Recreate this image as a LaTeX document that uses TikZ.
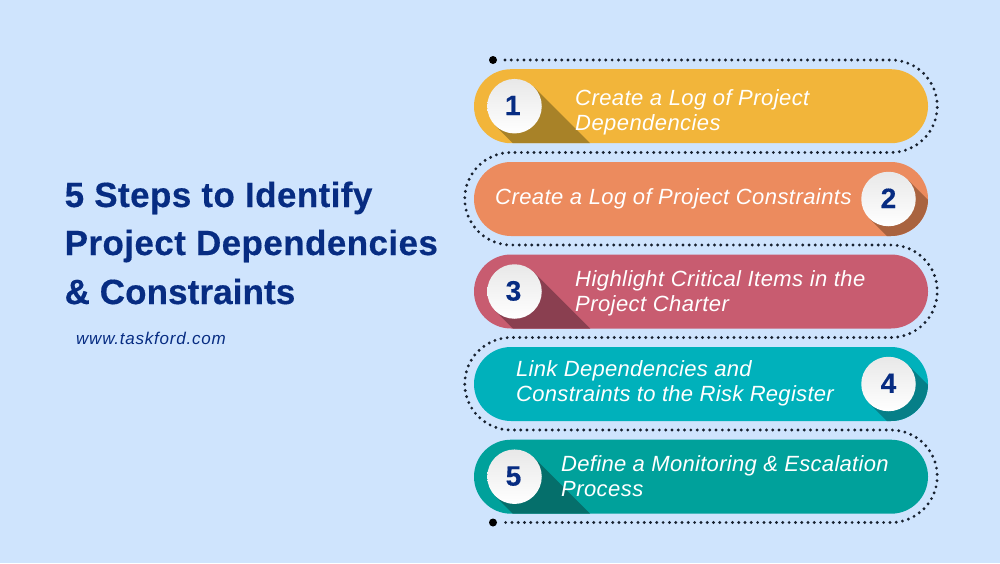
\documentclass[tikz,border=0pt]{standalone}
\usepackage{fontspec}
\usetikzlibrary{shapes.misc}
\setmainfont{Liberation Sans}
\definecolor{bg}{HTML}{CFE4FD}
\definecolor{navy}{HTML}{072C82}
\definecolor{dots}{HTML}{17212F}
\definecolor{pa}{HTML}{F2B53A}\definecolor{sa}{HTML}{A88228}
\definecolor{pb}{HTML}{EC8B5E}\definecolor{sb}{HTML}{A9633F}
\definecolor{pc}{HTML}{C85C70}\definecolor{sc}{HTML}{8A3F50}
\definecolor{pd}{HTML}{00B1BB}\definecolor{sd}{HTML}{067F88}
\definecolor{pe}{HTML}{00A19B}\definecolor{se}{HTML}{056F6B}
\newfontfamily\bodyfont[LetterSpace=2.0,ItalicFont={Liberation Sans Italic}]{Liberation Sans}
\newfontfamily\bodytight[LetterSpace=1.4,ItalicFont={Liberation Sans Italic}]{Liberation Sans}
\newfontfamily\urlfont[LetterSpace=4.6,ItalicFont={Liberation Sans Italic}]{Liberation Sans}
\newfontfamily\titlefont[LetterSpace=1.2,BoldFont={Liberation Sans Bold},BoldFeatures={FakeBold=0.4}]{Liberation Sans}
\newfontfamily\titletight[LetterSpace=0.3,BoldFont={Liberation Sans Bold},BoldFeatures={FakeBold=0.4}]{Liberation Sans}
\newfontfamily\numfont[BoldFont={Liberation Sans Bold},BoldFeatures={FakeBold=0.4}]{Liberation Sans}
\tikzset{
  x=1pt,y=-1pt,
  pillbox/.style={rounded rectangle,minimum width=454pt,minimum height=74pt,inner sep=0pt,outer sep=0pt},
  numdisc/.style={circle,minimum size=54.5pt,inner sep=0pt,shading angle=45,top color=white!91!black,bottom color=white,
     font=\numfont\fontsize{28}{28}\selectfont\bfseries,text=navy},
  label/.style={anchor=base west,inner sep=0pt,text=white,font=\bodyfont\fontsize{22}{22}\selectfont\itshape},
  tightlabel/.style={label,font=\bodytight\fontsize{22}{22}\selectfont\itshape},
  titleline/.style={anchor=base west,inner sep=0pt,text=navy,font=\titlefont\fontsize{35}{35}\selectfont\bfseries},
  dotline/.style={draw=dots,line width=3.2pt,line cap=round,dash pattern=on 0pt off 6.3pt},
  enddot/.style={circle,fill=black,minimum size=8pt,inner sep=0pt}
}
\newcommand{\pill}[6]{% name, centre y, fill, shadow, disc x, text
  \node[pillbox,fill=#3] (#1) at (701,#2) {};
  \begin{scope}
    \clip[rounded corners=37pt] (474,#2-37) rectangle (928,#2+37);
    \fill[#4] (#5+19.3,#2-19.3) -- ++(100,100) -- ++(-38.6,38.6) -- (#5-19.3,#2+19.3) -- cycle;
  \end{scope}
  \node[numdisc] (#1n) at (#5,#2) {\raisebox{1.5pt}{#6}};
}
\begin{document}
\begin{tikzpicture}
\useasboundingbox[fill=bg] (0,0) rectangle (1000,563);
\pill{p1}{106.2}{pa}{sa}{514.5}{\kern-3.5pt 1}
\pill{p2}{199}{pb}{sb}{888.5}{2}
\pill{p3}{291.5}{pc}{sc}{514.5}{\kern-2pt 3}
\pill{p4}{384}{pd}{sd}{888.5}{4}
\pill{p5}{476.7}{pe}{se}{514.5}{\kern-2pt 5}
\node[enddot] (st) at (493,60) {};
\node[enddot] (en) at (493,522.5) {};
\coordinate (a0) at (505,60);
\coordinate (a1) at (891,60);
\coordinate (a2) at (511,152.5);
\coordinate (a3) at (891,245);
\coordinate (a4) at (511,337.5);
\coordinate (a5) at (891,430);
\coordinate (a6) at (505,522.5);
\draw[dotline] (a0) -- (a1) arc[start angle=90,end angle=-90,radius=46.25pt]
  -- (a2) arc[start angle=90,end angle=270,radius=46.25pt]
  -- (a3) arc[start angle=90,end angle=-90,radius=46.25pt]
  -- (a4) arc[start angle=90,end angle=270,radius=46.25pt]
  -- (a5) arc[start angle=90,end angle=-90,radius=46.25pt]
  -- (a6);
\node[label] (t1a) at (575,105) {Create a Log of Project};
\node[label] (t1b) at (575,130) {Dependencies};
\node[label] (t2) at (495,204.5) {Create a Log of Project Constraints};
\node[label] (t3a) at (575,286) {Highlight Critical Items in the};
\node[label] (t3b) at (575,311) {Project Charter};
\node[tightlabel] (t4a) at (516,376) {Link Dependencies and};
\node[tightlabel] (t4b) at (516,401) {Constraints to the Risk Register};
\node[tightlabel] (t5a) at (561,471) {Define a Monitoring \& Escalation};
\node[label] (t5b) at (561,496) {Process};
\node[titleline] (h1) at (64.5,207) {5 Steps to Identify};
\node[titleline] (h2) at (64.5,255) {Project Dependencies};
\node[titleline,font=\titletight\fontsize{35}{35}\selectfont\bfseries] (h3) at (64.5,304) {\& Constraints};
\node[anchor=base west,inner sep=0pt,text=navy,font=\urlfont\fontsize{17}{17}\selectfont\itshape] (url) at (76,344) {www.taskford.com};
\end{tikzpicture}
\end{document}
